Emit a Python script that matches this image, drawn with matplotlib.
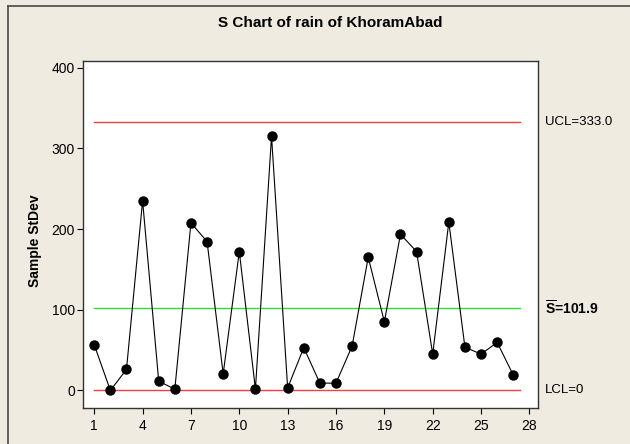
import matplotlib
matplotlib.use("Agg")
import matplotlib.pyplot as plt
from matplotlib.lines import Line2D

plt.rcParams['font.family'] = ['Liberation Sans', 'DejaVu Sans']
plt.rcParams['mathtext.fontset'] = 'custom'
plt.rcParams['mathtext.rm'] = 'Liberation Sans:bold'

# sample standard deviations per subgroup
samples = list(range(1, 28))
stdev = [56.5, 0, 26, 235, 11.5, 1.5, 207.5, 184.5, 20.5, 172, 1.5, 315, 3,
         53, 9, 9, 55, 165, 85, 193.5, 172, 45, 208.5, 53.5, 45, 59.5, 19]
ucl = 333.0
sbar = 101.9
lcl = 0
xticks = [1, 4, 7, 10, 13, 16, 19, 22, 25, 28]
yticks = [0, 100, 200, 300, 400]

bg = '#EFEBE1'
fig = plt.figure(figsize=(6.3, 4.44), dpi=100, facecolor=bg)
ax = fig.add_axes([0.1322, 0.0818, 0.7222, 0.7815])
ax.set_facecolor('white')

# window frame: only top and left edges are visible
fx, fy = 7.5 / 630, 1 - 6 / 444
fig.lines.append(Line2D([fx, 1], [fy, fy], transform=fig.transFigure,
                        color='#555555', lw=1.3))
fig.lines.append(Line2D([fx, fx], [0, fy], transform=fig.transFigure,
                        color='#555555', lw=1.3))

# control lines
ax.plot([1, 27.4], [ucl, ucl], color='#F04040', lw=1.0)
ax.plot([1, 27.4], [lcl, lcl], color='#F04040', lw=1.0)
ax.plot([1, 27.4], [sbar, sbar], color='#30E030', lw=1.0)

ax.plot(samples, stdev, color='black', lw=0.8, marker='o', markersize=6.5,
        markerfacecolor='black', markeredgecolor='black')

ax.set_xlim(0.32, 28.55)
ax.set_ylim(-21.4, 408.6)
ax.set_xticks(xticks)
ax.set_yticks(yticks)
ax.tick_params(direction='out', length=4, width=0.8, labelsize=10,
               colors='black', pad=2)
ax.tick_params(axis='x', pad=4)
for s in ax.spines.values():
    s.set_color('#333333')
    s.set_linewidth(1.0)

ax.set_ylabel('Sample StDev', fontsize=10, fontweight='bold')
ax.yaxis.set_label_coords(-0.09, 0.48)
fig.text(0.525, 0.948, 'S Chart of rain of KhoramAbad', ha='center',
         va='center', fontsize=11, fontweight='bold')

ax.text(1.015, ucl, 'UCL=333.0', transform=ax.get_yaxis_transform(),
        va='center', ha='left', fontsize=9.5)
ax.text(1.015, sbar, r'$\overline{\mathrm{S}}$=101.9',
        transform=ax.get_yaxis_transform(), va='center', ha='left',
        fontsize=10, fontweight='bold')
ax.text(1.015, lcl, 'LCL=0', transform=ax.get_yaxis_transform(),
        va='center', ha='left', fontsize=9.5)

fig.savefig('out.png', dpi=100, facecolor=bg)
